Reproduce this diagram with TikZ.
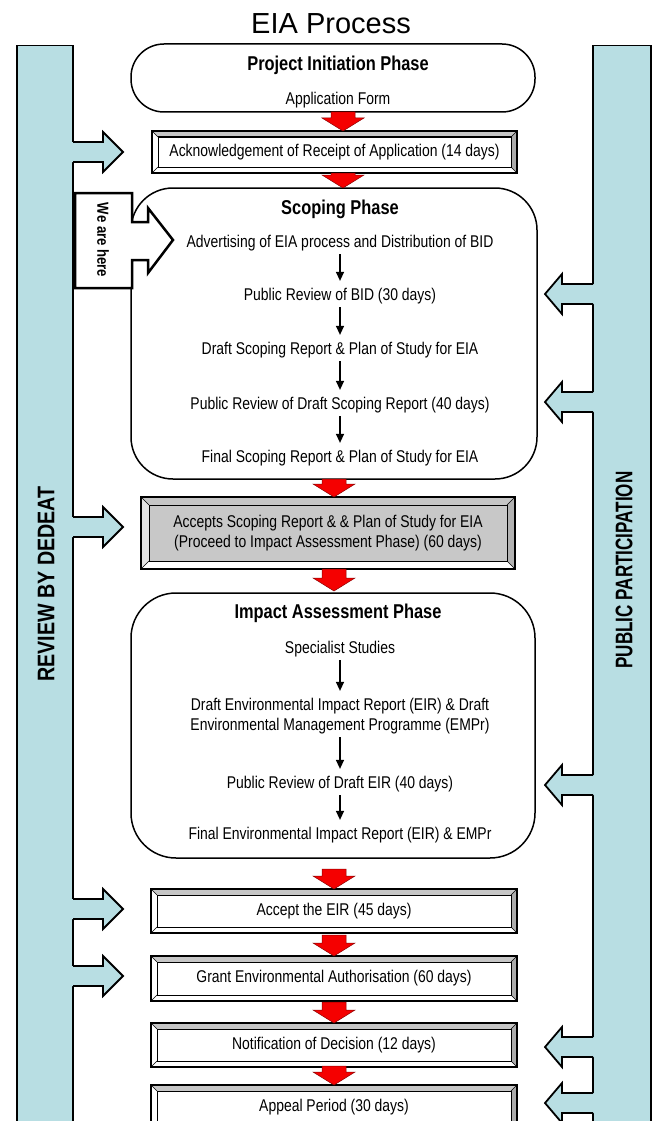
\documentclass[tikz,border=0pt]{standalone}
\usepackage{fontspec}
\setmainfont{Liberation Sans}
\newfontfamily\nar[FakeStretch=0.82]{Liberation Sans}
\newfontfamily\narr[FakeStretch=0.71]{Liberation Sans}
\usetikzlibrary{arrows.meta,calc}
\definecolor{barblue}{RGB}{184,222,227}
\definecolor{boxgray}{RGB}{200,200,200}
\definecolor{arrred}{RGB}{245,0,0}
\newcommand\fsz[2]{\fontsize{#1}{#2}\selectfont}
\tikzset{
  txt/.style={font=\nar\fsz{17}{20}, inner sep=2pt, align=center},
  headtxt/.style={font=\nar\bfseries\fsz{20}{24}, inner sep=2pt},
  bartxt/.style={font=\nar\bfseries\fsz{24}{28}, rotate=90},
  barbox/.style={draw=black, line width=1.5pt, fill=barblue, inner sep=0pt},
  rbox/.style={draw=black, line width=1.5pt, fill=white, inner sep=0pt},
  smallarr/.style={line width=1.3pt, -{Triangle[width=8pt,length=9pt]}, shorten <=1pt, shorten >=5pt},
  wtop/.style={fill=gray!45}, wright/.style={fill=gray!65}, wleft/.style={fill=white}, wbot/.style={fill=white}, win/.style={fill=white},
  gtop/.style={fill=gray!45}, gright/.style={fill=gray!60}, gleft/.style={fill=gray!22}, gbot/.style={fill=white}, gin/.style={fill=boxgray},
  redarr/.pic={\fill[arrred, draw=red!55!black, line width=0.5pt] (-12,0) -- (12,0) -- (12,{#1-13}) -- (21,{#1-13}) -- (0,#1) -- (-21,{#1-13}) -- (-12,{#1-13}) -- cycle;},
  bluer/.pic={\fill[barblue] (-1,-10) -- (30,-10) -- (30,-20) -- (50,0) -- (30,20) -- (30,10) -- (-1,10) -- cycle;
              \draw[line width=1.8pt, line join=miter] (0,-10) -- (30,-10) -- (30,-20) -- (50,0) -- (30,20) -- (30,10) -- (0,10);},
  bluel/.pic={\fill[barblue] (1,-10) -- (-31,-10) -- (-31,-20) -- (-48,0) -- (-31,20) -- (-31,10) -- (1,10) -- cycle;
              \draw[line width=1.8pt, line join=miter] (0,-10) -- (-31,-10) -- (-31,-20) -- (-48,0) -- (-31,20) -- (-31,10) -- (0,10);}
}
% #1 name, #2 x1, #3 y1, #4 x2, #5 y2, #6 bevel, #7 variant, #8 text
\newcommand\bevbox[8]{%
  \fill[#7in] (#2,#3) rectangle (#4,#5);
  \fill[#7top] (#2,#3) -- (#4,#3) -- ({#4-#6},{#3+#6}) -- ({#2+#6},{#3+#6}) -- cycle;
  \fill[#7right] (#4,#3) -- (#4,#5) -- ({#4-#6},{#5-#6}) -- ({#4-#6},{#3+#6}) -- cycle;
  \fill[#7left] (#2,#3) -- ({#2+#6},{#3+#6}) -- ({#2+#6},{#5-#6}) -- (#2,#5) -- cycle;
  \fill[#7bot] (#2,#5) -- ({#2+#6},{#5-#6}) -- ({#4-#6},{#5-#6}) -- (#4,#5) -- cycle;
  \fill[#7in] ({#2+#6},{#3+#6}) rectangle ({#4-#6},{#5-#6});
  \draw[line width=1pt] ({#2+#6},{#3+#6}) rectangle ({#4-#6},{#5-#6});
  \draw[line width=0.6pt] (#2,#3) -- ({#2+#6},{#3+#6}) (#4,#3) -- ({#4-#6},{#3+#6})
       (#2,#5) -- ({#2+#6},{#5-#6}) (#4,#5) -- ({#4-#6},{#5-#6});
  \node[txt, draw=black, line width=2pt, minimum width={#4-#2}, minimum height={#5-#3}, inner sep=0pt]
       (#1) at ({(#2+#4)/2},{(#3+#5)/2}) {#8};
}
\begin{document}
\begin{tikzpicture}[x=1pt,y=-1pt]
\useasboundingbox (0,0) rectangle (658,1121);
\clip (0,0) rectangle (658,1121);
\fill[white] (0,0) rectangle (658,1121);

% title
\node[font=\fsz{29}{34}] (title) at (331,24) {EIA Process};

% side bars
\node[barbox, minimum width=56pt, minimum height=1100pt, anchor=north] (leftbar) at (45,45) {};
\node[barbox, minimum width=58pt, minimum height=1100pt, anchor=north] (rightbar) at (622,45) {};
\node[bartxt] (review) at (46,584) {REVIEW BY DEDEAT};
\node[bartxt, font=\narr\bfseries\fsz{24}{28}] (public) at (624,570) {PUBLIC PARTICIPATION};

% project initiation
\node[rbox, rounded corners=33pt, minimum width=404pt, minimum height=68pt] (proj) at (333,78) {};
\node[headtxt] (projT) at (338,65) {Project Initiation Phase};
\node[txt] (appform) at (338,100) {Application Form};

% acknowledgement
\bevbox{ack}{152}{131}{517}{173}{6}{w}{Acknowledgement of Receipt of Application (14 days)}

% scoping phase
\node[rbox, rounded corners=42pt, minimum width=406pt, minimum height=291pt] (scope) at (334,333.5) {};
\node[headtxt] (scopeT) at (340,209) {Scoping Phase};
\node[txt] (s1) at (340,243) {Advertising of EIA process and Distribution of BID};
\node[txt] (s2) at (340,296) {Public Review of BID (30 days)};
\node[txt] (s3) at (340,350) {Draft Scoping Report \& Plan of Study for EIA};
\node[txt] (s4) at (340,405) {Public Review of Draft Scoping Report (40 days)};
\node[txt] (s5) at (340,458) {Final Scoping Report \& Plan of Study for EIA};
\draw[smallarr] (s1.south) -- (s2.north);
\draw[smallarr] (s2.south) -- (s3.north);
\draw[smallarr] (s3.south) -- (s4.north);
\draw[smallarr] (s4.south) -- (s5.north);

% we are here
\draw[fill=white, line width=2.5pt, line join=miter] (75,193) -- (132,193) -- (132,222) -- (148,222) -- (148,208) -- (173,240)
  -- (148,273) -- (148,260) -- (132,260) -- (132,288) -- (75,288) -- cycle;
\node[font=\nar\bfseries\fsz{16}{19}, rotate=-90] (here) at (103,240) {We are here};

% accepts scoping
\bevbox{accept}{141}{497}{515}{569}{8}{g}{Accepts Scoping Report \& \& Plan of Study for EIA\\(Proceed to Impact Assessment Phase) (60 days)}

% impact assessment
\node[rbox, rounded corners=45pt, minimum width=404pt, minimum height=265pt] (impact) at (333,725.5) {};
\node[headtxt] (impT) at (338,613) {Impact Assessment Phase};
\node[txt] (i1) at (340,649) {Specialist Studies};
\node[txt] (i2) at (340,716) {Draft Environmental Impact Report (EIR) \& Draft\\Environmental Management Programme (EMPr)};
\node[txt] (i3) at (340,784) {Public Review of Draft EIR (40 days)};
\node[txt] (i4) at (340,835) {Final Environmental Impact Report (EIR) \& EMPr};
\draw[smallarr] (i1.south) -- (i2.north);
\draw[smallarr] (i2.south) -- (i3.north);
\draw[smallarr] (i3.south) -- (i4.north);

% final boxes
\bevbox{eir}{151}{889}{517}{933}{6}{w}{Accept the EIR (45 days)}
\bevbox{grant}{151}{956}{517}{1001}{6}{w}{Grant Environmental Authorisation (60 days)}
\bevbox{notif}{151}{1023}{517}{1067}{6}{w}{Notification of Decision (12 days)}
\bevbox{appeal}{151}{1085}{517}{1129}{6}{w}{Appeal Period (30 days)}

% red flow arrows
\pic at (343,112) {redarr=19};
\pic at (343,173) {redarr=15};
\pic at (334,479) {redarr=18};
\pic at (334,569) {redarr=22};
\pic at (334,869) {redarr=20};
\pic at (334,935) {redarr=21};
\pic at (334,1002) {redarr=21};
\pic at (334,1066) {redarr=19};

% review arrows (left bar)
\pic at (73,152) {bluer};
\pic at (73,527) {bluer};
\pic at (73,909) {bluer};
\pic at (73,976) {bluer};

% public participation arrows (right bar)
\pic at (593,294) {bluel};
\pic at (593,402) {bluel};
\pic at (593,785) {bluel};
\pic at (593,1047) {bluel};
\pic at (593,1103) {bluel};
\end{tikzpicture}
\end{document}
